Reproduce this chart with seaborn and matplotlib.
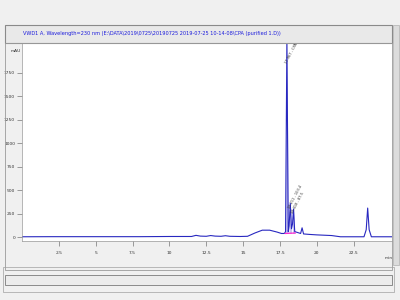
import matplotlib
matplotlib.use("Agg")
import matplotlib.pyplot as plt
import seaborn as sns
import pandas as pd
from matplotlib.patches import Rectangle

sns.set_style("white")
plt.rcParams['font.family'] = ['DejaVu Sans']

title = "VWD1 A, Wavelength=230 nm (E:\\DATA\\2019\\0725\\20190725 2019-07-25 10-14-08\\CPA (purified 1.D))"

# trace (time in min, signal in mAU)
times = [0.0, 2.0, 5.0, 8.0, 10.0, 11.5, 11.8, 12.1, 12.5, 12.8, 13.1, 13.5, 13.8, 14.1, 14.8,
         15.3, 15.8, 16.3, 16.8, 17.3, 17.6, 17.8, 17.88, 17.97, 18.06, 18.12, 18.2, 18.28,
         18.35, 18.42, 18.5, 18.9, 19.0, 19.1, 19.5, 20.0, 21.0, 21.6, 22.5, 23.2, 23.35, 23.45,
         23.55, 23.7, 24.3, 25.1]
signal = [5, 6, 6, 6, 8, 8, 20, 12, 10, 18, 12, 10, 16, 10, 8,
          10, 45, 75, 75, 55, 40, 40, 60, 2100, 60, 120, 360, 90, 140, 300, 60, 40, 100, 35,
          30, 25, 18, 5, 5, 5, 80, 310, 80, 5, 5, 5]

# integrated peaks (start, end) for shading / baseline
peak_start = [17.85, 18.10, 18.32]
peak_end = [18.10, 18.32, 18.55]
peak_labels = ["17.967 - CPA - 1764.3", "18.211 - 103.4", "18.418 - 87.5"]
peak_times = [17.97, 18.20, 18.42]
peak_heights = [2100, 360, 300]

y_ticks = [0, 250, 500, 750, 1000, 1250, 1500, 1750]
x_ticks = [2.5, 5, 7.5, 10, 12.5, 15, 17.5, 20, 22.5]
x_tick_labels = ["2.5", "5", "7.5", "10", "12.5", "15", "17.5", "20", "22.5"]

df = pd.DataFrame({"t": times, "mAU": signal})

fig = plt.figure(figsize=(4, 3), dpi=100, facecolor="#f0f0f0")
# header strip
fig.patches.append(Rectangle((5/400, 1-43/300), 387/400, 18/300, transform=fig.transFigure,
                             facecolor="#e9e9e9", edgecolor="#8a8a8a", lw=0.8))
fig.patches.append(Rectangle((5/400, 1-270/300), 387/400, 227/300, transform=fig.transFigure,
                             facecolor="none", edgecolor="#9a9a9a", lw=0.6))
# right scroll bar
fig.patches.append(Rectangle((393/400, 1-265/300), 6/400, 240/300, transform=fig.transFigure,
                             facecolor="#dcdcdc", edgecolor="#b0b0b0", lw=0.5))
# bottom scroll bar
fig.patches.append(Rectangle((5/400, 1-285/300), 387/400, 10/300, transform=fig.transFigure,
                             facecolor="#ececec", edgecolor="#8a8a8a", lw=0.7))
fig.patches.append(Rectangle((3/400, 1-292/300), 391/400, 25/300, transform=fig.transFigure,
                             facecolor="none", edgecolor="#a0a0a0", lw=0.5))
fig.text(23/400, 1-33/300, title, color="#1a1adc", fontsize=3.6, va="center", ha="left")

ax = fig.add_axes([22/400, 1-241/300, 370/400, 198/300])
ax.set_facecolor("white")

# shade integrated peaks
for s, e in zip(peak_start, peak_end):
    sub = df[(df.t >= s) & (df.t <= e)]
    ax.fill_between(sub.t, 40, sub.mAU, color="#c9c6f2", lw=0)
sns.lineplot(data=df, x="t", y="mAU", ax=ax, color="#2828c0", lw=0.8, sort=False)
ax.plot([peak_start[0], peak_end[-1]], [40, 45], color="#ff2ad0", lw=0.9)

for pt, ph, lab in zip(peak_times, peak_heights, peak_labels):
    yy = min(ph, 1900)
    ax.text(pt + 0.05, yy - 60, lab, rotation=62, fontsize=2.6, color="#333333",
            ha="left", va="bottom", rotation_mode="anchor")

ax.set_xlim(0, 25.1)
ax.set_ylim(-40, 2064)
ax.set_yticks(y_ticks)
ax.set_yticklabels([str(v) for v in y_ticks])
ax.set_xticks(x_ticks)
ax.set_xticklabels(x_tick_labels)
ax.set_xticks([i * 0.5 for i in range(1, 51)], minor=True)
ax.set_yticks([i * 50 for i in range(1, 41)], minor=True)
ax.tick_params(axis="both", which="major", labelsize=3.2, length=3.5, width=0.5, color="#777777",
               labelcolor="#333333", pad=1.5)
ax.tick_params(axis="x", which="major", pad=4)
ax.tick_params(axis="both", which="minor", length=2, width=0.4, color="#999999")
ax.tick_params(axis="x", bottom=True)
ax.tick_params(axis="y", left=True)
ax.set_xlabel("")
ax.set_ylabel("")
for sp in ax.spines.values():
    sp.set_visible(False)
ax.spines["bottom"].set_visible(True)
ax.spines["left"].set_visible(True)
ax.spines["bottom"].set_color("#999999")
ax.spines["left"].set_color("#999999")
ax.spines["bottom"].set_linewidth(0.5)
ax.spines["left"].set_linewidth(0.5)
fig.text(389/400, 1-258/300, "min", fontsize=3.2, color="#333333", ha="center", va="center")
fig.text(16/400, 1-51/300, "mAU", fontsize=3.2, color="#333333", ha="center", va="center")

fig.savefig("out.png", dpi=100, facecolor=fig.get_facecolor())
